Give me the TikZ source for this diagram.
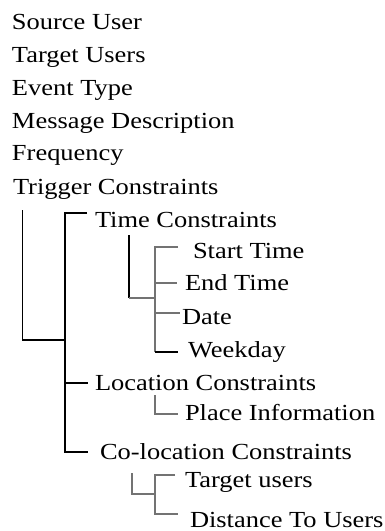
\documentclass[tikz,border=0pt]{standalone}
\usepackage{fontspec}
\setmainfont{Liberation Serif}
\begin{document}
\begin{tikzpicture}[x=1pt,y=-1pt,
  item/.style={anchor=base west,inner sep=0pt,outer sep=0pt,xscale=1.15,transform shape,
    font=\fontsize{23}{26}\selectfont},
  blk/.style={draw=black,line width=1.2pt},
  gry/.style={draw=black!55,line width=1.6pt}]
\useasboundingbox (0,0) rectangle (385,531);

% field list
\node[item] (src)  at (12,29)  {Source User};
\node[item] (tgt)  at (12,62)  {Target Users};
\node[item] (evt)  at (12,95)  {Event Type};
\node[item] (msg)  at (12,128) {Message Description};
\node[item] (frq)  at (12,160) {Frequency};
\node[item] (trg)  at (13,194) {Trigger Constraints};

% constraint tree
\node[item] (time) at (95,227)  {Time Constraints};
\node[item] (st)   at (193,258) {Start Time};
\node[item] (et)   at (185,290) {End Time};
\node[item] (date) at (182,324) {Date};
\node[item] (wd)   at (188,357) {Weekday};
\node[item] (loc)  at (95,390)  {Location Constraints};
\node[item] (pl)   at (185,420) {Place Information};
\node[item] (col)  at (100,459) {Co-location Constraints};
\node[item] (tu)   at (185,487) {Target users};
\node[item] (dist) at (190,527) {Distance To Users};

% branch points
\coordinate (trgTop) at (22.7,210);
\coordinate (trgJoin) at (65,340);
\coordinate (brTop) at (87,213);
\coordinate (brLoc) at (88,383);
\coordinate (brCol) at (88,452);
\coordinate (timeTop) at (129,235);
\coordinate (timeJoin) at (155,298);
\coordinate (stEnd) at (178,247);
\coordinate (etEnd) at (177,283);
\coordinate (dateEnd) at (180,313);
\coordinate (wdEnd) at (178,352);
\coordinate (plTop) at (155,395);
\coordinate (plEnd) at (178,414);
\coordinate (colTop) at (132,473);
\coordinate (colJoin) at (155,494);
\coordinate (tuEnd) at (175,475);
\coordinate (distEnd) at (178,514);

% Trigger Constraints -> three constraint kinds
\draw[blk] (trgTop) |- (trgJoin);
\draw[blk] (brTop) -| (brCol -| trgJoin) -- (brCol);
\draw[blk] (brLoc -| trgJoin) -- (brLoc);

% Time Constraints -> its fields
\draw[blk] (timeTop) |- (timeJoin -| timeTop);
\draw[gry] (timeJoin -| timeTop) -- (timeJoin);
\draw[gry] (stEnd) -| (wdEnd -| timeJoin);
\draw[gry] (etEnd -| timeJoin) -- (etEnd);
\draw[gry] (dateEnd -| timeJoin) -- (dateEnd);
\draw[blk] (wdEnd -| timeJoin) -- (wdEnd);

% Location Constraints -> Place Information
\draw[gry] (plTop) |- (plEnd);

% Co-location Constraints -> its fields
\draw[gry] (colTop) |- (colJoin);
\draw[gry] (tuEnd) -| (distEnd -| colJoin) -- (distEnd);
\end{tikzpicture}
\end{document}
